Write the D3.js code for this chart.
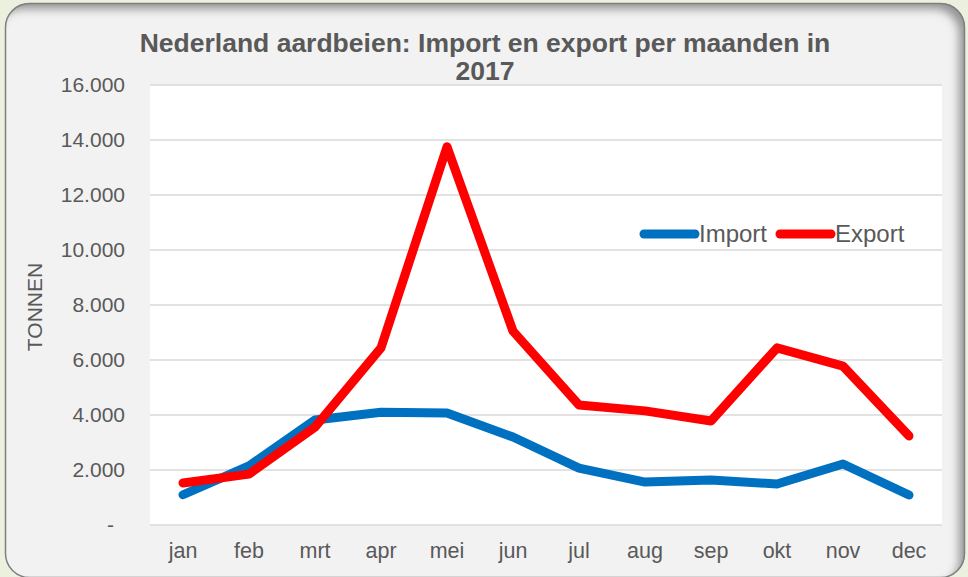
<!DOCTYPE html>
<html lang="nl">
<head>
<meta charset="utf-8">
<title>Nederland aardbeien</title>
<script src="https://d3js.org/d3.v7.min.js"></script>
<style>
  body { margin: 0; background: #ebf1de; }
  svg { display: block; font-family: "Liberation Sans", Arial, sans-serif; }
  .tick text { fill: #595959; }
</style>
</head>
<body>
<svg id="chart" width="968" height="577"></svg>
<script>
// data
var months = ["jan", "feb", "mrt", "apr", "mei", "jun", "jul", "aug", "sep", "okt", "nov", "dec"];
var importVals = [1100, 2150, 3820, 4100, 4070, 3200, 2070, 1560, 1640, 1490, 2220, 1090];
var exportVals = [1530, 1850, 3560, 6440, 13750, 7050, 4360, 4150, 3780, 6440, 5780, 3240];
var yTicks = [0, 2000, 4000, 6000, 8000, 10000, 12000, 14000, 16000];

var svg = d3.select("#chart");
var plot = {left: 150, right: 942, top: 85, bottom: 525};

// inner shadow for the panel
var defs = svg.append("defs");
var f = defs.append("filter").attr("id", "inset")
  .attr("x", "-5%").attr("y", "-5%").attr("width", "110%").attr("height", "110%");
f.append("feFlood").attr("flood-color", "#000").attr("flood-opacity", 0.65).attr("result", "flood");
f.append("feComposite").attr("in", "flood").attr("in2", "SourceAlpha").attr("operator", "out").attr("result", "ring");
f.append("feOffset").attr("in", "ring").attr("dx", -7).attr("dy", 7).attr("result", "off");
f.append("feGaussianBlur").attr("in", "off").attr("stdDeviation", 4).attr("result", "blur");
f.append("feComposite").attr("in", "blur").attr("in2", "SourceAlpha").attr("operator", "in").attr("result", "shadow");
var m = f.append("feMerge");
m.append("feMergeNode").attr("in", "SourceGraphic");
m.append("feMergeNode").attr("in", "shadow");

svg.append("rect")
  .attr("x", 5).attr("y", 3).attr("width", 960).attr("height", 575)
  .attr("rx", 24).attr("ry", 24)
  .attr("fill", "#f2f2f2")
  .attr("filter", "url(#inset)");
svg.append("rect")
  .attr("x", 5.5).attr("y", 3.5).attr("width", 959).attr("height", 574)
  .attr("rx", 24).attr("ry", 24)
  .attr("fill", "none").attr("stroke", "#7f7f7f").attr("stroke-width", 1.5);

// plot area
svg.append("rect")
  .attr("x", plot.left).attr("y", plot.top)
  .attr("width", plot.right - plot.left).attr("height", plot.bottom - plot.top)
  .attr("fill", "#fff");

var x = d3.scaleBand().domain(months).range([plot.left, plot.right]);
var y = d3.scaleLinear().domain([0, 16000]).range([plot.bottom, plot.top]);

// gridlines
svg.append("g").selectAll("line").data(yTicks).join("line")
  .attr("x1", plot.left).attr("x2", plot.right)
  .attr("y1", function(d) { return y(d); }).attr("y2", function(d) { return y(d); })
  .attr("stroke", "#d9d9d9").attr("stroke-width", 1.5);

var fmt = function(d) { return d === 0 ? "-" : d3.format(",")(d).replace(/,/g, "."); };

var yAxis = svg.append("g")
  .attr("transform", "translate(" + (plot.left - 25) + ",0)")
  .call(d3.axisLeft(y).tickValues(yTicks).tickFormat(fmt).tickSize(0).tickPadding(0));
yAxis.select(".domain").remove();
yAxis.selectAll("text").style("font-size", "21px");
yAxis.selectAll(".tick").filter(function(d) { return d === 0; }).select("text").attr("dx", -11);

var xAxis = svg.append("g")
  .attr("transform", "translate(0," + plot.bottom + ")")
  .call(d3.axisBottom(x).tickSize(0).tickPadding(18));
xAxis.select(".domain").remove();
xAxis.selectAll("text").style("font-size", "21.5px");

// axis title
svg.append("text")
  .attr("transform", "translate(42,307) rotate(-90)")
  .attr("text-anchor", "middle")
  .attr("fill", "#595959").style("font-size", "21px")
  .text("TONNEN");

// title
var title = svg.append("text")
  .attr("text-anchor", "middle").attr("fill", "#595959")
  .style("font-size", "26.5px").style("font-weight", "bold");
title.append("tspan").attr("x", 485).attr("y", 52).text("Nederland aardbeien: Import en export per maanden in");
title.append("tspan").attr("x", 485).attr("y", 80).text("2017");

// lines
var line = function(vals) {
  return d3.line()
    .x(function(d, i) { return x(months[i]) + x.bandwidth() / 2; })
    .y(function(d) { return y(d); })(vals);
};
var series = [
  {name: "Import", vals: importVals, color: "#0070c0"},
  {name: "Export", vals: exportVals, color: "#ff0000"}
];
svg.append("g").selectAll("path").data(series).join("path")
  .attr("d", function(d) { return line(d.vals); })
  .attr("fill", "none")
  .attr("stroke", function(d) { return d.color; })
  .attr("stroke-width", 9)
  .attr("stroke-linejoin", "round")
  .attr("stroke-linecap", "round");

// legend
var legX = [644, 780];
var leg = svg.append("g").selectAll("g").data(series).join("g")
  .attr("transform", function(d, i) { return "translate(" + legX[i] + ",234)"; });
leg.append("line")
  .attr("x1", 0).attr("x2", 51)
  .attr("stroke", function(d) { return d.color; })
  .attr("stroke-width", 9).attr("stroke-linecap", "round");
leg.append("text")
  .attr("x", 55).attr("y", 8)
  .attr("fill", "#595959").style("font-size", "24px")
  .text(function(d) { return d.name; });
</script>
</body>
</html>
